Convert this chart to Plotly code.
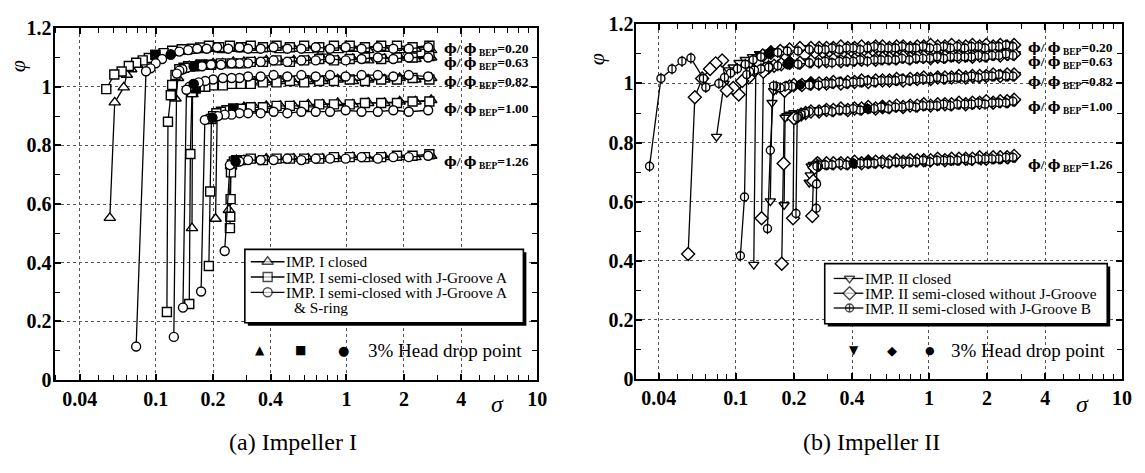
import math
import plotly.graph_objects as go

W, H = 1145, 473

FLOW_LABELS = ["0.20", "0.63", "0.82", "1.00", "1.26"]

# ---------------- Impeller I ----------------
# plateau sigma values (high-sigma part of every test run)
I_SIG_CLOSED = [2.78, 2.3, 1.9, 1.58, 1.3, 1.08, 0.9, 0.75, 0.63, 0.53, 0.45, 0.38, 0.33, 0.29]
I_SIG_JGA = [2.72, 2.22, 1.84, 1.52, 1.25, 1.04, 0.86, 0.72, 0.6, 0.505, 0.43, 0.365, 0.315, 0.28]
I_SIG_SRING = [2.68, 2.12, 1.76, 1.46, 1.2, 0.99, 0.82, 0.69, 0.58, 0.49, 0.415, 0.355, 0.305, 0.275]

# plateau phi, one row per flow ratio 0.20 / 0.63 / 0.82 / 1.00 / 1.26
I_PHI_CLOSED = [
    [1.125, 1.13, 1.125, 1.13, 1.125, 1.13, 1.125, 1.12, 1.125, 1.13, 1.125, 1.13, 1.125, 1.13],
    [1.10, 1.095, 1.10, 1.095, 1.09, 1.095, 1.09, 1.095, 1.09, 1.09, 1.085, 1.09, 1.085, 1.085],
    [1.03, 1.025, 1.03, 1.025, 1.025, 1.02, 1.025, 1.02, 1.02, 1.015, 1.02, 1.015, 1.015, 1.01],
    [0.955, 0.95, 0.95, 0.945, 0.945, 0.94, 0.945, 0.94, 0.94, 0.935, 0.935, 0.935, 0.93, 0.93],
    [0.765, 0.76, 0.76, 0.76, 0.755, 0.76, 0.755, 0.755, 0.755, 0.755, 0.75, 0.755, 0.75, 0.75],
]
I_PHI_JGA = [
    [1.14, 1.135, 1.14, 1.14, 1.135, 1.14, 1.14, 1.135, 1.14, 1.135, 1.14, 1.135, 1.14, 1.135],
    [1.105, 1.10, 1.10, 1.095, 1.10, 1.095, 1.09, 1.095, 1.09, 1.085, 1.09, 1.085, 1.085, 1.08],
    [1.025, 1.03, 1.025, 1.025, 1.02, 1.025, 1.02, 1.02, 1.015, 1.02, 1.015, 1.015, 1.01, 1.01],
    [0.95, 0.95, 0.945, 0.945, 0.945, 0.94, 0.94, 0.94, 0.935, 0.935, 0.935, 0.93, 0.93, 0.925],
    [0.77, 0.765, 0.765, 0.76, 0.76, 0.76, 0.76, 0.755, 0.755, 0.755, 0.755, 0.75, 0.755, 0.75],
]
I_PHI_SRING = [
    [1.135, 1.13, 1.13, 1.135, 1.13, 1.135, 1.13, 1.135, 1.13, 1.13, 1.135, 1.13, 1.13, 1.135],
    [1.10, 1.10, 1.095, 1.10, 1.095, 1.09, 1.095, 1.09, 1.09, 1.085, 1.09, 1.085, 1.08, 1.08],
    [1.035, 1.04, 1.035, 1.04, 1.04, 1.035, 1.04, 1.035, 1.04, 1.035, 1.04, 1.035, 1.035, 1.03],
    [0.92, 0.915, 0.92, 0.915, 0.915, 0.92, 0.915, 0.915, 0.915, 0.91, 0.915, 0.91, 0.91, 0.91],
    [0.765, 0.76, 0.76, 0.755, 0.76, 0.755, 0.755, 0.755, 0.75, 0.755, 0.75, 0.75, 0.75, 0.745],
]

# low-sigma part of each run down to breakdown
I_TAIL_SIG_CLOSED = [
    [0.255, 0.225, 0.2, 0.18, 0.16, 0.145, 0.13, 0.118, 0.107, 0.097, 0.088, 0.08, 0.0745, 0.0706, 0.068, 0.061, 0.0575],
    [0.255, 0.225, 0.2, 0.18, 0.163, 0.15, 0.141, 0.135, 0.131, 0.127],
    [0.26, 0.235, 0.21, 0.19, 0.175, 0.165, 0.16, 0.156, 0.155],
    [0.265, 0.245, 0.228, 0.216, 0.21, 0.206],
    [0.265, 0.255, 0.248, 0.242],
]
I_TAIL_PHI_CLOSED = [
    [1.13, 1.125, 1.13, 1.125, 1.125, 1.12, 1.12, 1.115, 1.11, 1.10, 1.09, 1.075, 1.06, 1.041, 0.998, 0.947, 0.553],
    [1.085, 1.08, 1.08, 1.075, 1.075, 1.07, 1.065, 1.055, 1.03, 0.96],
    [1.01, 1.01, 1.005, 1.005, 1.0, 0.995, 0.99, 0.975, 0.518],
    [0.925, 0.92, 0.915, 0.91, 0.90, 0.55],
    [0.75, 0.745, 0.73, 0.58],
]
I_TAIL_SIG_JGA = [
    [0.245, 0.215, 0.19, 0.171, 0.155, 0.137, 0.122, 0.11, 0.0996, 0.092, 0.0855, 0.079, 0.0723, 0.0663, 0.0607, 0.0551],
    [0.25, 0.22, 0.195, 0.175, 0.16, 0.148, 0.14, 0.133, 0.127, 0.122, 0.12, 0.116, 0.1145],
    [0.25, 0.225, 0.2, 0.182, 0.17, 0.162, 0.157, 0.155, 0.152, 0.15],
    [0.255, 0.235, 0.22, 0.208, 0.2, 0.196, 0.193, 0.19],
    [0.265, 0.257, 0.251, 0.248, 0.247, 0.246, 0.245],
]
I_TAIL_PHI_JGA = [
    [1.14, 1.135, 1.14, 1.134, 1.13, 1.128, 1.123, 1.115, 1.109, 1.098, 1.09, 1.082, 1.071, 1.052, 1.042, 0.992],
    [1.08, 1.08, 1.075, 1.075, 1.07, 1.07, 1.065, 1.06, 1.04, 1.006, 0.971, 0.881, 0.232],
    [1.01, 1.005, 1.005, 1.0, 1.0, 0.995, 0.99, 0.982, 0.771, 0.259],
    [0.925, 0.92, 0.915, 0.91, 0.90, 0.89, 0.643, 0.389],
    [0.75, 0.745, 0.735, 0.708, 0.617, 0.557, 0.518],
]
I_TAIL_SIG_SRING = [
    [0.24, 0.21, 0.185, 0.165, 0.148, 0.133, 0.12, 0.108, 0.1, 0.094, 0.089, 0.079],
    [0.25, 0.22, 0.195, 0.175, 0.158, 0.146, 0.138, 0.133, 0.129, 0.1245],
    [0.25, 0.225, 0.2, 0.182, 0.168, 0.158, 0.15, 0.145, 0.139],
    [0.25, 0.23, 0.212, 0.198, 0.188, 0.181, 0.173],
    [0.262, 0.252, 0.245, 0.23],
]
I_TAIL_PHI_SRING = [
    [1.13, 1.135, 1.13, 1.13, 1.125, 1.12, 1.11, 1.095, 1.08, 1.063, 1.053, 0.114],
    [1.08, 1.075, 1.075, 1.07, 1.07, 1.065, 1.06, 1.055, 1.045, 0.147],
    [1.03, 1.03, 1.025, 1.02, 1.015, 1.01, 1.0, 0.99, 0.247],
    [0.905, 0.905, 0.90, 0.895, 0.89, 0.887, 0.302],
    [0.745, 0.74, 0.733, 0.44],
]

# ---------------- Impeller II ----------------
II_SIG_CLOSED = [2.8, 2.58, 2.38, 2.19, 2.02, 1.86, 1.71, 1.58, 1.45, 1.34,
                 1.23, 1.13, 1.04, 0.96, 0.885, 0.815, 0.75, 0.69, 0.635, 0.585,
                 0.54, 0.495, 0.455, 0.42, 0.385, 0.355, 0.325, 0.3, 0.275]
II_SIG_NOJG = [2.76, 2.54, 2.34, 2.15, 1.98, 1.83, 1.68, 1.55, 1.43, 1.31,
               1.21, 1.11, 1.02, 0.94, 0.87, 0.8, 0.735, 0.68, 0.625, 0.575,
               0.53, 0.485, 0.448, 0.412, 0.38, 0.35, 0.32, 0.295, 0.27]
II_SIG_JGB = [2.72, 2.5, 2.3, 2.12, 1.95, 1.8, 1.66, 1.53, 1.4, 1.29,
              1.19, 1.1, 1.01, 0.93, 0.855, 0.79, 0.725, 0.67, 0.615, 0.565,
              0.52, 0.48, 0.44, 0.405, 0.373, 0.343, 0.315, 0.29, 0.268]

II_PHI_CLOSED = [
    [1.125, 1.12, 1.125, 1.12, 1.125, 1.125, 1.12, 1.125, 1.12, 1.12,
     1.125, 1.12, 1.125, 1.12, 1.12, 1.125, 1.12, 1.12, 1.125, 1.12,
     1.12, 1.12, 1.125, 1.12, 1.12, 1.115, 1.12, 1.12, 1.115],
    [1.10, 1.095, 1.10, 1.095, 1.095, 1.09, 1.095, 1.09, 1.095, 1.09,
     1.09, 1.095, 1.09, 1.09, 1.09, 1.085, 1.09, 1.085, 1.09, 1.085,
     1.085, 1.085, 1.08, 1.085, 1.08, 1.08, 1.085, 1.08, 1.08],
    [1.03, 1.025, 1.03, 1.025, 1.025, 1.025, 1.02, 1.025, 1.02, 1.02,
     1.02, 1.02, 1.015, 1.02, 1.015, 1.015, 1.015, 1.01, 1.015, 1.01,
     1.01, 1.01, 1.005, 1.01, 1.005, 1.005, 1.005, 1.0, 1.005],
    [0.94, 0.935, 0.94, 0.935, 0.935, 0.935, 0.93, 0.935, 0.93, 0.93,
     0.93, 0.925, 0.93, 0.925, 0.925, 0.925, 0.92, 0.925, 0.92, 0.92,
     0.92, 0.915, 0.92, 0.915, 0.915, 0.915, 0.91, 0.915, 0.91],
    [0.75, 0.745, 0.745, 0.745, 0.745, 0.74, 0.745, 0.74, 0.745, 0.74,
     0.74, 0.74, 0.74, 0.735, 0.74, 0.735, 0.74, 0.735, 0.735, 0.735,
     0.735, 0.73, 0.735, 0.73, 0.73, 0.73, 0.73, 0.725, 0.73],
]
II_PHI_NOJG = [
    [1.13, 1.125, 1.13, 1.125, 1.13, 1.125, 1.13, 1.125, 1.125, 1.13,
     1.125, 1.125, 1.13, 1.125, 1.125, 1.12, 1.125, 1.125, 1.12, 1.125,
     1.125, 1.12, 1.125, 1.12, 1.12, 1.125, 1.12, 1.12, 1.12],
    [1.10, 1.10, 1.095, 1.10, 1.095, 1.095, 1.09, 1.095, 1.09, 1.095,
     1.09, 1.09, 1.085, 1.09, 1.09, 1.085, 1.09, 1.085, 1.085, 1.085,
     1.08, 1.085, 1.08, 1.08, 1.08, 1.075, 1.08, 1.075, 1.075],
    [1.03, 1.03, 1.025, 1.03, 1.025, 1.025, 1.025, 1.02, 1.025, 1.02,
     1.02, 1.02, 1.015, 1.02, 1.015, 1.015, 1.01, 1.015, 1.01, 1.01,
     1.01, 1.005, 1.01, 1.005, 1.005, 1.0, 1.005, 1.0, 1.0],
    [0.945, 0.94, 0.94, 0.935, 0.94, 0.935, 0.935, 0.93, 0.935, 0.93,
     0.93, 0.93, 0.925, 0.93, 0.925, 0.925, 0.92, 0.925, 0.92, 0.92,
     0.915, 0.92, 0.915, 0.915, 0.91, 0.915, 0.91, 0.91, 0.905],
    [0.755, 0.75, 0.75, 0.75, 0.745, 0.75, 0.745, 0.745, 0.745, 0.745,
     0.74, 0.745, 0.74, 0.74, 0.74, 0.74, 0.735, 0.74, 0.735, 0.735,
     0.735, 0.735, 0.73, 0.735, 0.73, 0.73, 0.73, 0.73, 0.725],
]
II_PHI_JGB = [
    [1.125, 1.13, 1.125, 1.125, 1.12, 1.125, 1.125, 1.12, 1.125, 1.12,
     1.125, 1.12, 1.12, 1.125, 1.12, 1.12, 1.125, 1.12, 1.12, 1.12,
     1.125, 1.12, 1.115, 1.12, 1.12, 1.115, 1.12, 1.115, 1.115],
    [1.095, 1.10, 1.095, 1.095, 1.09, 1.095, 1.09, 1.09, 1.09, 1.09,
     1.085, 1.09, 1.085, 1.085, 1.085, 1.08, 1.085, 1.08, 1.08, 1.08,
     1.08, 1.075, 1.08, 1.075, 1.075, 1.075, 1.07, 1.075, 1.07],
    [1.025, 1.025, 1.03, 1.025, 1.025, 1.02, 1.025, 1.02, 1.02, 1.02,
     1.015, 1.02, 1.015, 1.015, 1.015, 1.01, 1.015, 1.01, 1.01, 1.01,
     1.005, 1.01, 1.005, 1.005, 1.0, 1.005, 1.0, 1.0, 0.995],
    [0.94, 0.935, 0.935, 0.935, 0.93, 0.935, 0.93, 0.93, 0.93, 0.925,
     0.93, 0.925, 0.925, 0.925, 0.92, 0.925, 0.92, 0.92, 0.915, 0.92,
     0.915, 0.915, 0.91, 0.915, 0.91, 0.91, 0.905, 0.91, 0.905],
    [0.75, 0.75, 0.745, 0.745, 0.745, 0.745, 0.74, 0.745, 0.74, 0.74,
     0.74, 0.74, 0.735, 0.74, 0.735, 0.735, 0.735, 0.735, 0.73, 0.735,
     0.73, 0.73, 0.73, 0.73, 0.725, 0.73, 0.725, 0.725, 0.72],
]

II_TAIL_SIG_CLOSED = [
    [0.25, 0.22, 0.195, 0.175, 0.158, 0.145, 0.133, 0.122, 0.112, 0.104, 0.097, 0.092, 0.087, 0.0795],
    [0.25, 0.22, 0.195, 0.175, 0.16, 0.148, 0.139, 0.132, 0.127, 0.124],
    [0.25, 0.225, 0.205, 0.19, 0.18, 0.17, 0.162, 0.157, 0.154, 0.151],
    [0.25, 0.23, 0.215, 0.2, 0.19, 0.184, 0.18, 0.178],
    [0.26, 0.252, 0.246, 0.243, 0.24],
]
II_TAIL_PHI_CLOSED = [
    [1.12, 1.12, 1.115, 1.115, 1.11, 1.105, 1.10, 1.09, 1.08, 1.07, 1.055, 1.045, 1.0, 0.82],
    [1.075, 1.075, 1.07, 1.07, 1.065, 1.06, 1.055, 1.05, 1.04, 0.387],
    [1.0, 1.0, 0.995, 0.99, 0.987, 0.985, 0.98, 0.975, 0.935, 0.602],
    [0.91, 0.905, 0.90, 0.90, 0.895, 0.89, 0.885, 0.589],
    [0.725, 0.725, 0.72, 0.69, 0.665],
]
II_TAIL_SIG_NOJG = [
    [0.245, 0.215, 0.19, 0.17, 0.152, 0.138, 0.13, 0.124, 0.1166, 0.108, 0.1036, 0.097, 0.090, 0.085, 0.0787, 0.0736, 0.067, 0.0614, 0.0567],
    [0.245, 0.215, 0.19, 0.172, 0.158, 0.148, 0.142, 0.139, 0.136],
    [0.245, 0.22, 0.2, 0.19, 0.183, 0.179, 0.177, 0.173],
    [0.245, 0.23, 0.218, 0.21, 0.204, 0.2, 0.198],
    [0.265, 0.26, 0.256, 0.252, 0.249],
]
II_TAIL_PHI_NOJG = [
    [1.12, 1.12, 1.115, 1.11, 1.105, 1.095, 1.07, 1.043, 1.02, 1.008, 0.963, 0.985, 0.976, 1.078, 1.068, 1.049, 1.017, 0.953, 0.423],
    [1.075, 1.07, 1.07, 1.065, 1.06, 1.055, 1.05, 1.04, 0.544],
    [1.0, 0.995, 0.995, 0.99, 0.985, 0.975, 0.729, 0.39],
    [0.905, 0.90, 0.895, 0.89, 0.885, 0.882, 0.544],
    [0.73, 0.725, 0.715, 0.67, 0.552],
]
II_TAIL_SIG_JGB = [
    [0.24, 0.21, 0.185, 0.165, 0.148, 0.135, 0.123, 0.112, 0.102, 0.094, 0.0875, 0.0818, 0.070, 0.068, 0.0586, 0.0527, 0.0468, 0.041, 0.0358],
    [0.24, 0.21, 0.185, 0.165, 0.148, 0.135, 0.125, 0.118, 0.114, 0.111, 0.1057],
    [0.24, 0.215, 0.195, 0.18, 0.17, 0.162, 0.157, 0.151, 0.146],
    [0.24, 0.228, 0.218, 0.212, 0.208, 0.205],
    [0.266, 0.263, 0.262, 0.261],
]
II_TAIL_PHI_JGB = [
    [1.115, 1.11, 1.11, 1.105, 1.10, 1.09, 1.08, 1.065, 1.05, 1.035, 1.02, 1.0, 0.987, 1.017, 1.086, 1.075, 1.049, 1.017, 0.72],
    [1.07, 1.065, 1.065, 1.06, 1.055, 1.05, 1.045, 1.04, 1.03, 0.616, 0.417],
    [0.995, 0.995, 0.99, 0.99, 0.985, 0.99, 0.992, 0.774, 0.509],
    [0.905, 0.90, 0.895, 0.89, 0.885, 0.56],
    [0.725, 0.72, 0.66, 0.578],
]

SERIF = "Liberation Serif"
INK = "black"


def head_drop(sig, phi):
    """Last measured point still within 3 % of the high-sigma level."""
    limit = 0.97 * phi[0]
    k = 0
    for i, v in enumerate(phi):
        if v >= limit:
            k = i
        else:
            break
    return sig[k], phi[k]


fig = go.Figure()


def add_series(grid, plateau, tail_sig, tail_phi, symbol, size, axes, bar=False):
    xa, ya = axes
    for f in range(len(FLOW_LABELS)):
        s = grid + tail_sig[f]
        p = plateau[f] + tail_phi[f]
        assert len(s) == len(p), (symbol, f, len(s), len(p))
        fig.add_trace(go.Scatter(
            x=s, y=p, mode="lines+markers", xaxis=xa, yaxis=ya, showlegend=False,
            hoverinfo="skip",
            line=dict(color=INK, width=1.3),
            marker=dict(symbol=symbol, size=size, color="white", line=dict(color=INK, width=1.4)),
        ))
        if bar:
            fig.add_trace(go.Scatter(
                x=s, y=p, mode="markers", xaxis=xa, yaxis=ya, showlegend=False,
                hoverinfo="skip",
                marker=dict(symbol="line-ns", size=size, line=dict(color=INK, width=1.2)),
            ))
        hs, hp = head_drop(s, p)
        fig.add_trace(go.Scatter(
            x=[hs], y=[hp], mode="markers", xaxis=xa, yaxis=ya, showlegend=False,
            hoverinfo="skip",
            marker=dict(symbol=symbol, size=size, color=INK, line=dict(color=INK, width=1.4)),
        ))


add_series(I_SIG_CLOSED, I_PHI_CLOSED, I_TAIL_SIG_CLOSED, I_TAIL_PHI_CLOSED, "triangle-up", 10, ("x", "y"))
add_series(I_SIG_JGA, I_PHI_JGA, I_TAIL_SIG_JGA, I_TAIL_PHI_JGA, "square", 9, ("x", "y"))
add_series(I_SIG_SRING, I_PHI_SRING, I_TAIL_SIG_SRING, I_TAIL_PHI_SRING, "circle", 9, ("x", "y"))
add_series(II_SIG_CLOSED, II_PHI_CLOSED, II_TAIL_SIG_CLOSED, II_TAIL_PHI_CLOSED, "triangle-down", 9, ("x2", "y2"))
add_series(II_SIG_NOJG, II_PHI_NOJG, II_TAIL_SIG_NOJG, II_TAIL_PHI_NOJG, "diamond", 10, ("x2", "y2"))
add_series(II_SIG_JGB, II_PHI_JGB, II_TAIL_SIG_JGB, II_TAIL_PHI_JGB, "circle", 8, ("x2", "y2"), bar=True)

tick_font = dict(family=SERIF, size=20, color=INK, weight="bold")
X_TICKS = [0.04, 0.1, 0.2, 0.4, 1, 2, 4, 10]
X_TICK_TEXT = ["0.04", "0.1", "0.2", "0.4", "1", "2", "4", "10"]
X_MINOR = [0.03, 0.05, 0.06, 0.07, 0.08, 0.09, 0.3, 0.5, 0.6, 0.7, 0.8, 0.9, 3, 5, 6, 7, 8, 9]


def xaxis(domain, lo, anchor):
    return dict(
        type="log", domain=domain, range=[math.log10(lo), 1.0], anchor=anchor,
        tickmode="array", tickvals=X_TICKS, ticktext=X_TICK_TEXT,
        ticks="inside", ticklen=6, tickwidth=1.5, tickcolor=INK,
        showline=True, linewidth=2, linecolor=INK, mirror="allticks",
        showgrid=True, gridcolor="#555", griddash="dot", gridwidth=1,
        minor=dict(tickmode="array", tickvals=X_MINOR, ticks="inside", ticklen=5,
                   tickwidth=1.2, tickcolor=INK, showgrid=False),
        tickfont=tick_font, zeroline=False, fixedrange=True,
    )


def yaxis(domain, anchor):
    return dict(
        domain=domain, range=[0, 1.2], anchor=anchor, dtick=0.2, tick0=0,
        ticks="inside", ticklen=6, tickwidth=1.5, tickcolor=INK,
        showline=True, linewidth=2, linecolor=INK, mirror="allticks",
        showgrid=True, gridcolor="#555", griddash="dot", gridwidth=1,
        minor=dict(dtick=0.1, ticks="inside", ticklen=5, tickwidth=1.2, tickcolor=INK, showgrid=False),
        tickfont=tick_font, zeroline=False, ticklabelstandoff=-3, fixedrange=True,
    )


fig.update_layout(
    width=W, height=H, margin=dict(l=0, r=0, t=0, b=0),
    paper_bgcolor="white", plot_bgcolor="rgba(0,0,0,0)", showlegend=False,
    xaxis=xaxis([55 / W, 542 / W], 0.0295, "y"),
    yaxis=yaxis([1 - 387 / H, 1 - 18 / H], "x"),
    xaxis2=xaxis([642 / W, 1132 / W], 0.0306, "y2"),
    yaxis2=yaxis([1 - 386 / H, 1 - 14 / H], "x2"),
    # full-page pixel frame used for the legend boxes
    xaxis3=dict(domain=[0, 1], range=[0, W], visible=False, anchor="y3", fixedrange=True),
    yaxis3=dict(domain=[0, 1], range=[H, 0], visible=False, anchor="x3", fixedrange=True),
)

# ---------------- legend boxes ----------------
LEGEND_I = ["IMP. I closed", "IMP. I semi-closed with J-Groove A", "IMP. I semi-closed with J-Groove A"]
LEGEND_I_SYMBOLS = ["triangle-up", "square", "circle"]
LEGEND_I_SIZES = [10, 9, 9]
LEGEND_II = ["IMP. II closed", "IMP. II semi-closed without J-Groove", "IMP. II semi-closed with J-Groove B"]
LEGEND_II_SYMBOLS = ["triangle-down", "diamond", "circle-cross"]
LEGEND_II_SIZES = [9, 10, 8]

# box (left, top, right, bottom), sample line span, marker x, text x, row centres
BOXES = [
    dict(box=(247, 250, 528, 327), line=(253, 287), mx=270, tx=288, rows=[263, 279, 295],
         names=LEGEND_I, symbols=LEGEND_I_SYMBOLS, sizes=LEGEND_I_SIZES),
    dict(box=(832, 265, 1117, 328), line=(841, 871), mx=857, tx=872, rows=[280.5, 296, 311.5],
         names=LEGEND_II, symbols=LEGEND_II_SYMBOLS, sizes=LEGEND_II_SIZES),
]

shapes = []
ann = []


def text(px, py, s, size, family=SERIF, xanchor="center", yanchor="middle", **kw):
    d = dict(x=px / W, y=1 - py / H, xref="paper", yref="paper", text=s, showarrow=False,
             xanchor=xanchor, yanchor=yanchor, font=dict(family=family, size=size, color=INK))
    d.update(kw)
    ann.append(d)


for b in BOXES:
    x0, y0, x1, y1 = b["box"]
    shapes.append(dict(type="rect", xref="x3", yref="y3", x0=x0 + 3, y0=y0 + 3, x1=x1 + 3, y1=y1 + 3,
                       fillcolor=INK, line=dict(width=0), layer="between"))
    shapes.append(dict(type="rect", xref="x3", yref="y3", x0=x0, y0=y0, x1=x1, y1=y1,
                       fillcolor="white", line=dict(color=INK, width=1.6), layer="between"))
    lx0, lx1 = b["line"]
    for ry, name in zip(b["rows"], b["names"]):
        shapes.append(dict(type="line", xref="x3", yref="y3", x0=lx0, x1=lx1, y0=ry, y1=ry,
                           line=dict(color=INK, width=1.3), layer="between"))
        text(b["tx"], ry, name, 15.3, xanchor="left", borderpad=0)
    fig.add_trace(go.Scatter(
        x=[b["mx"]] * len(b["rows"]), y=b["rows"], mode="markers", xaxis="x3", yaxis="y3",
        showlegend=False, hoverinfo="skip", cliponaxis=False,
        marker=dict(symbol=b["symbols"], size=b["sizes"], color="white", line=dict(color=INK, width=1.4)),
    ))

text(296, 311, "&amp; S-ring", 15.3, xanchor="left", borderpad=0)

# flow-rate labels
PHI_SYM = "<span style='font-family:DejaVu Serif'>\u03d5</span>"
LEFT_LABEL_Y = [38, 53, 72, 101, 156]
RIGHT_LABEL_Y = [37, 52, 72, 99, 160]
for lab, yl, yr in zip(FLOW_LABELS, LEFT_LABEL_Y, RIGHT_LABEL_Y):
    s = "<b>" + PHI_SYM + "/ " + PHI_SYM + "<sub> BEP</sub>=" + lab + "</b>"
    text(446, yl + 2, s, 13.5, xanchor="left")
    text(1035, yr + 2, s, 13.5, xanchor="left")

# axis titles
text(17, 58, "<i>\u03c6</i>", 22, textangle=-90)
text(602, 51, "<i>\u03c6</i>", 22, textangle=-90)
text(502, 412, "<i>\u03c3</i>", 24)
text(1092, 412, "<i>\u03c3</i>", 24)

# 3 % head drop key
text(262, 356, "\u25b2", 12, family="DejaVu Sans")
text(303, 356, "\u25a0", 12, family="DejaVu Sans")
text(347, 356, "\u25cf", 13, family="DejaVu Sans")
text(369, 356, "3% Head drop point", 19, xanchor="left")
text(862, 356, "\u25bc", 12, family="DejaVu Sans")
text(900, 356, "\u25c6", 13, family="DejaVu Sans")
text(938, 356, "\u25cf", 11, family="DejaVu Sans")
text(957, 356, "3% Head drop point", 19, xanchor="left")

# panel captions
text(296, 452, "(a) Impeller I", 24)
text(879, 452, "(b) Impeller II", 24)

fig.update_layout(annotations=ann, shapes=shapes)
fig.write_html("out.html")
